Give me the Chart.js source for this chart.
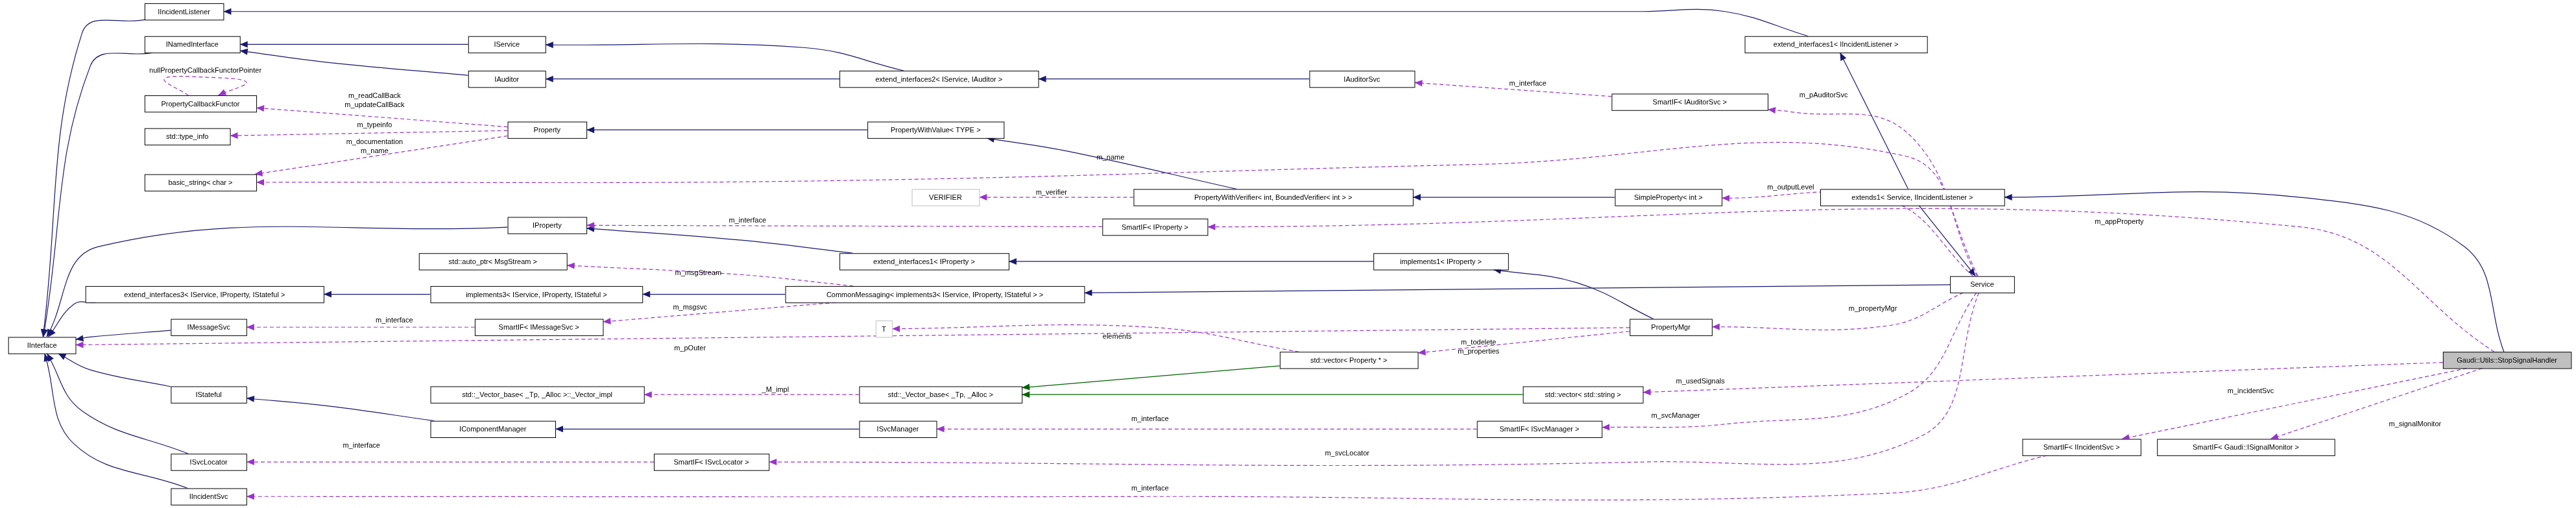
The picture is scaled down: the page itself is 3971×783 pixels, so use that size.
<!DOCTYPE html>
<html><head><meta charset="utf-8">
<script src="https://cdn.jsdelivr.net/npm/chart.js@4/dist/chart.umd.min.js"></script>
<style>html,body{margin:0;padding:0;background:#fff}canvas{display:block}</style>
</head><body><canvas id="c" width="3971" height="783"></canvas>
<script>
// nodes: name, left, top, right, bottom (graph units)
const nodeNames=["IIncidentListener","INamedInterface","IService","IAuditor","extend_interfaces2< IService, IAuditor >","IAuditorSvc","extend_interfaces1< IIncidentListener >","PropertyCallbackFunctor","Property","std::type_info","basic_string< char >","PropertyWithValue< TYPE >","SmartIF< IAuditorSvc >","VERIFIER","PropertyWithVerifier< int, BoundedVerifier< int > >","SimpleProperty< int >","extends1< Service, IIncidentListener >","IProperty","SmartIF< IProperty >","std::auto_ptr< MsgStream >","extend_interfaces1< IProperty >","implements1< IProperty >","extend_interfaces3< IService, IProperty, IStateful >","implements3< IService, IProperty, IStateful >","CommonMessaging< implements3< IService, IProperty, IStateful > >","Service","IMessageSvc","SmartIF< IMessageSvc >","IInterface","PropertyMgr","T","std::vector< Property * >","Gaudi::Utils::StopSignalHandler","IStateful","std::_Vector_base< _Tp, _Alloc >::_Vector_impl","std::_Vector_base< _Tp, _Alloc >","std::vector< std::string >","IComponentManager","ISvcManager","SmartIF< ISvcManager >","ISvcLocator","SmartIF< IIncidentSvc >","SmartIF< Gaudi::ISignalMonitor >","SmartIF< ISvcLocator >","IIncidentSvc"];
const nodeX1=[88,88,285,285,511,797,1062,88,309,88,88,528,981,555,690,983,1108,309,671,255,511,836,52,262,478,1187,104,289,5,992,533,779,1487,104,262,523,927,262,523,899,104,1231,1313,398,104];
const nodeX2=[136,146,332,332,632,861,1173,156,357,140,156,611,1076,596,860,1048,1220,357,735,345,614,918,197,391,660,1226,150,367,46,1042,543,863,1565,150,392,622,1000,338,570,975,150,1303,1421,468,150];
const nodeY1=[2,22,22,43,43,43,22,58,74,78,106,74,57,115,115,115,115,132,133,154,154,154,174,174,174,168,194,194,205,194,195,214,214,235,235,235,235,256,256,256,276,267,267,276,297];
// edges: from, to, kind (i=inherit, u=usage, t=template), label, via points
const edgeFrom=[0,1,17,22,26,33,40,44,2,3,4,4,5,6,16,16,32,11,14,15,20,21,29,23,24,25,37,38,31,36,
  8,8,8,12,25,25,14,25,18,32,24,24,27,29,25,29,31,32,35,25,39,25,43,32,32,41,7];
const edgeTo=[28,28,28,28,28,28,28,28,1,1,2,3,4,0,25,6,16,8,11,14,17,20,21,22,23,24,33,37,35,35,
  7,9,10,5,12,10,13,15,17,18,19,27,26,28,29,31,30,36,34,39,38,43,40,41,42,44,7];
const edgeKind="iiiiiiiiiiiiiiiiiiiiiiiiiiiitt"+"uuuuuuuuuuuuuuuuuuuuuuuuuuu";
const edgeLabel=["","","","","","","","","","","","","","","","","","","","","","","","","","","","","","",
  "m_readCallBack\nm_updateCallBack","m_typeinfo","m_documentation\nm_name","m_interface","m_pAuditorSvc","m_name","m_verifier","m_outputLevel","m_interface","m_appProperty","m_msgStream","m_msgsvc","m_interface","m_pOuter","m_propertyMgr","m_todelete\nm_properties","elements","m_usedSignals","_M_impl","m_svcManager","m_interface","m_svcLocator","m_interface","m_incidentSvc","m_signalMonitor","m_interface","nullPropertyCallbackFunctorPointer"];
const labelX=[...Array(30).fill(null),228,228,228,930,1110,676,640,1090,455,1290,425,420,240,420,1140,900,680,1035,472,1020,700,820,220,1370,1470,700,125];
const labelY=[...Array(30).fill(null),61,76,89,51,58,96,117,114,134,135,166,187,195,212,188,211,205,232,237,253,255,276,271,238,258,297,43];
const edgeVia={0:[[50,20]],1:[[55,40]],2:[[60,150]],3:[[45,185]],4:[[55,205]],5:[[55,225]],6:[[50,250]],7:[[45,270]],
  9:[[200,38]],10:[[490,29]],13:[[1050,7],[1000,7]],16:[[1500,150],[1400,120]],18:[[650,92]],20:[[450,146]],
  22:[[960,172]],26:[[200,247]],35:[[1160,95],[900,100],[500,110]],34:[[1160,80],[1090,68]],37:[[1150,122]],39:[[1400,138]],
  40:[[450,167]],44:[[1150,198]],46:[[700,199]],49:[[1160,240],[1050,258]],51:[[1170,265],[1000,281]],55:[[1150,300],[700,302]],
  56:[[100,48],[125,47],[150,50]]};
const NH=10;

function box(i){return {x1:nodeX1[i],x2:nodeX2[i],y1:nodeY1[i],y2:nodeY1[i]+NH,cx:(nodeX1[i]+nodeX2[i])/2,cy:nodeY1[i]+NH/2};}
function clip(b,p){
  const dx=p[0]-b.cx,dy=p[1]-b.cy; if(!dx&&!dy)return [b.cx,b.cy];
  const hw=(b.x2-b.x1)/2,hh=NH/2;
  const t=Math.min(dx?hw/Math.abs(dx):1e9,dy?hh/Math.abs(dy):1e9);
  return [b.cx+dx*t,b.cy+dy*t];}
const colors={i:'#191970',u:'#9a32cd',t:'#006400'};
const datasets=[];
edgeFrom.forEach((f,k)=>{
  const a=box(f),b=box(edgeTo[k]);const via=edgeVia[k]||[];
  const first=via.length?via[0]:[b.cx,b.cy];const last=via.length?via[via.length-1]:[a.cx,a.cy];
  const pts=[clip(a,first),...via,clip(b,last)];
  datasets.push({type:'line',data:pts.map(p=>({x:p[0],y:p[1]})),borderColor:colors[edgeKind[k]],borderWidth:1.2,
    borderDash:edgeKind[k]==='u'?[6,4]:[],pointRadius:0,tension:via.length?0.4:0,fill:false,kind:edgeKind[k],
    label:edgeLabel[k],lx:labelX[k],ly:labelY[k]});
});
const FONT='11px "Liberation Sans", Arial, sans-serif';
const plugin={id:'g',afterDatasetsDraw(ch){
  const c=ch.ctx,xs=ch.scales.x,ys=ch.scales.y;
  c.save();
  ch.data.datasets.forEach(ds=>{
    const d=ds.data,n=d.length;const px=xs.getPixelForValue(d[n-1].x),py=ys.getPixelForValue(d[n-1].y);
    const qx=xs.getPixelForValue(d[n-2].x),qy=ys.getPixelForValue(d[n-2].y);
    const ang=Math.atan2(py-qy,px-qx),L=12,W=5;
    c.fillStyle=ds.borderColor;c.beginPath();c.moveTo(px,py);
    c.lineTo(px-L*Math.cos(ang)+W*Math.sin(ang),py-L*Math.sin(ang)-W*Math.cos(ang));
    c.lineTo(px-L*Math.cos(ang)-W*Math.sin(ang),py-L*Math.sin(ang)+W*Math.cos(ang));c.closePath();c.fill();
    if(ds.label){c.fillStyle='#000';c.font=FONT;c.textAlign='center';c.textBaseline='middle';
      ds.label.split('\n').forEach((t,j,arr)=>c.fillText(t,xs.getPixelForValue(ds.lx),ys.getPixelForValue(ds.ly)+(j-(arr.length-1)/2)*14));}
  });
  nodeNames.forEach((nm,i)=>{const b=box(i);
    const x1=xs.getPixelForValue(b.x1),x2=xs.getPixelForValue(b.x2),y1=ys.getPixelForValue(b.y1),y2=ys.getPixelForValue(b.y2);
    c.fillStyle=i===32?'#bfbfbf':'#fff';c.fillRect(x1,y1,x2-x1,y2-y1);
    c.strokeStyle=i===30||i===13?'#bfbfbf':'#000';c.lineWidth=1;c.strokeRect(x1+.5,y1+.5,x2-x1,y2-y1);
    c.fillStyle='#000';c.font=FONT;c.textAlign='center';c.textBaseline='middle';c.fillText(nm,(x1+x2)/2,(y1+y2)/2+1);
  });
  c.restore();}};
new Chart(document.getElementById('c'),{type:'line',data:{datasets},plugins:[plugin],
  options:{responsive:false,devicePixelRatio:1,animation:false,parsing:false,
    layout:{padding:0},plugins:{legend:{display:false},tooltip:{enabled:false}},
    scales:{x:{type:'linear',min:0,max:1568,display:false},y:{type:'linear',min:0,max:309,reverse:true,display:false}}}});
</script></body></html>
